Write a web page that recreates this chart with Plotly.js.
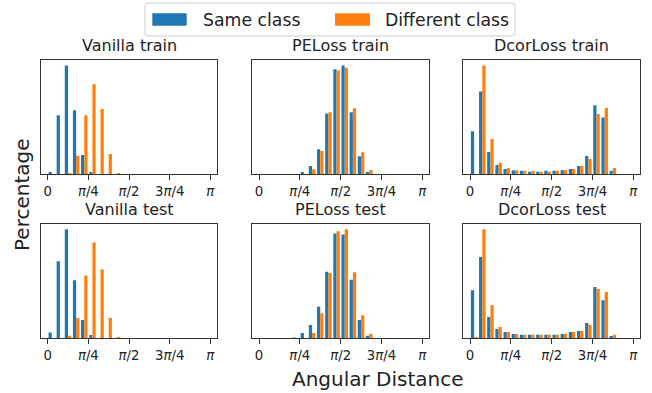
<!DOCTYPE html>
<html>
<head>
<meta charset="utf-8">
<script src="https://cdn.plot.ly/plotly-3.0.1.min.js"></script>
<style>html,body{margin:0;padding:0;background:#fff;}#chart{width:652px;height:393px;}</style>
</head>
<body>
<div id="chart"></div>
<script>
// ---- Data (percentage of pairs per angular bin, 20 bins over [0, pi]) ----
const nBins = 20;
const seriesNames = ['Same class', 'Different class'];
const panelTitles = ['Vanilla train', 'PELoss train', 'DcorLoss train', 'Vanilla test', 'PELoss test', 'DcorLoss test'];
const tickLabels = ['0', '<i>π</i>/4', '<i>π</i>/2', '3<i>π</i>/4', '<i>π</i>'];

const vanillaTrainSame = [0.9, 23.1, 42.5, 25.0, 7.5, 0.9, 0, 0, 0, 0, 0, 0, 0, 0, 0, 0, 0, 0, 0, 0];
const vanillaTrainDiff = [0, 0, 0.5, 7.2, 23.1, 35.2, 25.5, 7.9, 0.5, 0, 0, 0, 0, 0, 0, 0, 0, 0, 0, 0];
const peTrainSame = [0, 0, 0, 0, 0, 0.6, 2.1, 6.4, 15.5, 26.7, 27.7, 15.8, 4.6, 0.6, 0, 0, 0, 0, 0, 0];
const peTrainDiff = [0, 0, 0, 0, 0, 0, 1.3, 5.9, 15.8, 26.4, 27.1, 16.8, 5.6, 1.1, 0, 0, 0, 0, 0, 0];
const dcorTrainSame = [12.4, 23.9, 6.4, 2.7, 1.5, 1.2, 1.0, 0.7, 0.7, 1.0, 1.0, 1.2, 1.5, 2.4, 5.3, 19.9, 16.4, 1.0, 0, 0];
const dcorTrainDiff = [0, 31.4, 10.2, 3.3, 1.8, 1.2, 1.0, 1.0, 0.7, 0.7, 1.0, 1.2, 1.5, 2.4, 4.4, 17.4, 19.1, 1.8, 0, 0];

const vanillaTestSame = [2.1, 28.4, 40.2, 21.4, 6.7, 1.2, 0, 0, 0, 0, 0, 0, 0, 0, 0, 0, 0, 0, 0, 0];
const vanillaTestDiff = [0, 0, 0.9, 7.5, 23.1, 35.3, 25.3, 7.5, 0.5, 0, 0, 0, 0, 0, 0, 0, 0, 0, 0, 0];
const peTestSame = [0, 0, 0, 0, 0.2, 1.3, 3.3, 7.8, 16.4, 25.8, 25.6, 14.4, 4.5, 0.6, 0, 0, 0, 0, 0, 0];
const peTestDiff = [0, 0, 0, 0, 0, 0.1, 1.3, 6.2, 16.1, 26.4, 26.9, 16.3, 5.7, 1.1, 0, 0, 0, 0, 0, 0];
const dcorTestSame = [15.4, 26.0, 6.8, 3.0, 2.0, 1.4, 1.1, 1.1, 1.1, 1.1, 1.1, 1.4, 2.0, 2.3, 4.9, 16.4, 12.2, 0.7, 0, 0];
const dcorTestDiff = [0.4, 34.9, 10.6, 3.6, 2.0, 1.4, 1.1, 1.1, 1.1, 1.1, 1.1, 1.4, 2.0, 2.3, 4.3, 15.8, 14.8, 1.1, 0, 0];

// ---- Build figure ----
const PI = Math.PI;
const binCenters = Array.from({length: nBins}, (_, k) => (k + 0.5) * PI / nBins);
const tickVals = [0, PI / 4, PI / 2, 3 * PI / 4, PI];
const colors = ['#1f77b4', '#ff7f0e'];
const panelData = [
  [vanillaTrainSame, vanillaTrainDiff],
  [peTrainSame, peTrainDiff],
  [dcorTrainSame, dcorTrainDiff],
  [vanillaTestSame, vanillaTestDiff],
  [peTestSame, peTestDiff],
  [dcorTestSame, dcorTestDiff]
];

const W = 652, H = 393;
const colPx = [[41, 217], [252.3, 429], [463.3, 640]];
const rowPx = [[60, 174.3], [223.7, 338.3]];
const font = 'DejaVu Sans, Liberation Sans, sans-serif';
const lineCol = '#333333';

const traces = [];
const layout = {
  width: W, height: H,
  margin: {l: 0, r: 0, t: 0, b: 0},
  paper_bgcolor: '#ffffff', plot_bgcolor: '#ffffff',
  barmode: 'group', bargap: 0.2, bargroupgap: 0,
  showlegend: false,
  font: {family: font, color: '#222222'},
  annotations: [], shapes: []
};

panelData.forEach((pair, i) => {
  const idx = i + 1;
  const sfx = idx === 1 ? '' : String(idx);
  const r = Math.floor(i / 3), c = i % 3;
  pair.forEach((vals, s) => {
    traces.push({
      type: 'bar', x: binCenters, y: vals, name: seriesNames[s],
      marker: {color: colors[s], line: {width: 0}},
      xaxis: 'x' + sfx, yaxis: 'y' + sfx, showlegend: false, hoverinfo: 'x+y'
    });
  });
  const ymax = Math.max(...pair[0], ...pair[1]) * 1.05;
  layout['xaxis' + sfx] = {
    domain: [colPx[c][0] / W, colPx[c][1] / W], anchor: 'y' + sfx,
    range: [-0.13, PI + 0.13], tickvals: tickVals, ticktext: tickLabels,
    ticks: 'outside', ticklen: 5, tickwidth: 1, tickcolor: lineCol,
    showline: true, mirror: true, linecolor: lineCol, linewidth: 1,
    showgrid: false, zeroline: false,
    tickfont: {family: font, size: 13.3, color: '#222222'}
  };
  layout['yaxis' + sfx] = {
    domain: [1 - rowPx[r][1] / H, 1 - rowPx[r][0] / H], anchor: 'x' + sfx,
    range: [0, ymax], showticklabels: false, ticks: '',
    showline: true, mirror: true, linecolor: lineCol, linewidth: 1,
    showgrid: false, zeroline: false
  };
  layout.annotations.push({
    text: panelTitles[i], xref: 'paper', yref: 'paper',
    x: (colPx[c][0] + colPx[c][1]) / 2 / W, y: 1 - rowPx[r][0] / H,
    xanchor: 'center', yanchor: 'bottom', yshift: 3, showarrow: false,
    font: {family: font, size: 16, color: '#222222'}
  });
});

// axis labels
layout.annotations.push({
  text: 'Percentage', xref: 'paper', yref: 'paper', x: 22 / W, y: 1 - 195 / H,
  xanchor: 'center', yanchor: 'middle', textangle: -90, showarrow: false,
  font: {family: font, size: 20, color: '#222222'}
});
layout.annotations.push({
  text: 'Angular Distance', xref: 'paper', yref: 'paper', x: 378 / W, y: 1 - 379 / H,
  xanchor: 'center', yanchor: 'middle', showarrow: false,
  font: {family: font, size: 20, color: '#222222'}
});

// legend (figure-level, drawn above the panels)
function px2x(p) { return p / W; }
function px2y(p) { return 1 - p / H; }
const bx0 = 145, bx1 = 515, by0 = 3, by1 = 36, rr = 3;
const rx = rr / W, ry = rr / H;
const X0 = px2x(bx0), X1 = px2x(bx1), Y0 = px2y(by0), Y1 = px2y(by1);
layout.shapes.push({
  type: 'path', xref: 'paper', yref: 'paper',
  path: `M ${X0 + rx},${Y0} L ${X1 - rx},${Y0} Q ${X1},${Y0} ${X1},${Y0 - ry} L ${X1},${Y1 + ry} Q ${X1},${Y1} ${X1 - rx},${Y1} L ${X0 + rx},${Y1} Q ${X0},${Y1} ${X0},${Y1 + ry} L ${X0},${Y0 - ry} Q ${X0},${Y0} ${X0 + rx},${Y0} Z`,
  line: {color: '#cccccc', width: 1}, fillcolor: 'rgba(255,255,255,0.8)'
});
const handleX = [[152.3, 186.7], [335, 370]];
const labelX = [201, 383.3];
seriesNames.forEach((nm, s) => {
  layout.shapes.push({
    type: 'rect', xref: 'paper', yref: 'paper',
    x0: px2x(handleX[s][0]), x1: px2x(handleX[s][1]), y0: px2y(25.7), y1: px2y(13.3),
    line: {width: 0}, fillcolor: colors[s]
  });
  layout.annotations.push({
    text: nm, xref: 'paper', yref: 'paper', x: px2x(labelX[s]), y: px2y(19.5),
    xanchor: 'left', yanchor: 'middle', showarrow: false,
    font: {family: font, size: 17.3, color: '#222222'}
  });
});

Plotly.newPlot('chart', traces, layout, {displayModeBar: false, staticPlot: true});
</script>
</body>
</html>
